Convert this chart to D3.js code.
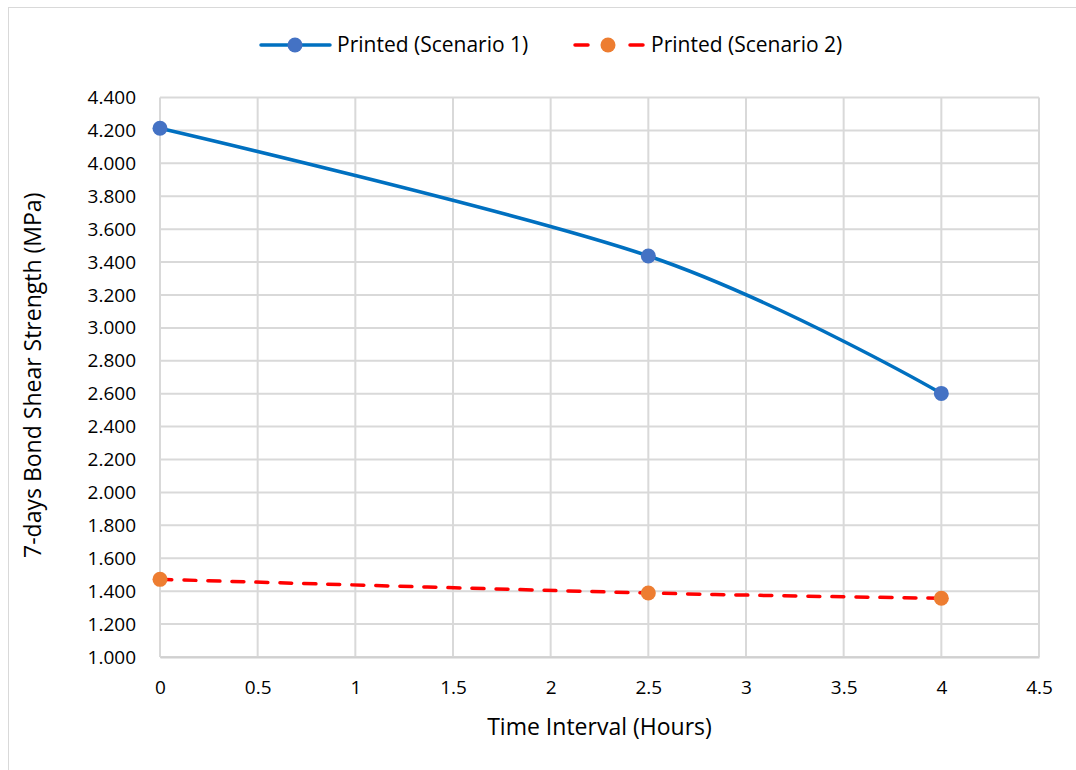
<!DOCTYPE html>
<html>
<head>
<meta charset="utf-8">
<script src="https://cdn.jsdelivr.net/npm/d3@7"></script>
<style>
  html, body { margin: 0; padding: 0; background: #fff; }
  svg { display: block; font-family: "Open Sans", "Noto Sans", sans-serif; }
</style>
</head>
<body>
<svg id="chart" width="1076" height="770"></svg>
<script>
// Time interval between printed layers (hours)
const hours = [0, 2.5, 4];
// 7-day bond shear strength (MPa) for each scenario
const scenario1 = [4.213, 3.437, 2.602];
const scenario2 = [1.472, 1.389, 1.357];
const seriesNames = ["Printed (Scenario 1)", "Printed (Scenario 2)"];
const xTicks = [0, 0.5, 1, 1.5, 2, 2.5, 3, 3.5, 4, 4.5];
const yTicks = [1.0, 1.2, 1.4, 1.6, 1.8, 2.0, 2.2, 2.4, 2.6, 2.8, 3.0, 3.2, 3.4, 3.6, 3.8, 4.0, 4.2, 4.4];

const svg = d3.select("#chart");
const W = 1076, H = 770;
const plot = { left: 160, right: 1039, top: 97.5, bottom: 657 };

// outer chart frame
svg.append("rect")
  .attr("x", 8.5).attr("y", 7.5)
  .attr("width", W + 10).attr("height", H + 10)
  .attr("fill", "#fff").attr("stroke", "#d9d9d9").attr("stroke-width", 1);

const x = d3.scaleLinear().domain([0, 4.5]).range([plot.left, plot.right]);
const y = d3.scaleLinear().domain([1.0, 4.4]).range([plot.bottom, plot.top]);

// gridlines
const grid = svg.append("g");
grid.selectAll(".gx").data(xTicks).join("line")
  .attr("x1", d => x(d)).attr("x2", d => x(d))
  .attr("y1", plot.top).attr("y2", plot.bottom)
  .attr("stroke", "#d9d9d9").attr("stroke-width", 2);
grid.selectAll(".gy").data(yTicks).join("line")
  .attr("x1", plot.left).attr("x2", plot.right)
  .attr("y1", d => y(d)).attr("y2", d => y(d))
  .attr("stroke", "#d9d9d9").attr("stroke-width", 2);

// axes (labels only; gridlines serve as ticks)
const xAxis = d3.axisBottom(x).tickValues(xTicks).tickSize(0).tickPadding(24)
  .tickFormat(d => String(d));
const gx = svg.append("g").attr("transform", `translate(0,${plot.bottom})`).call(xAxis);
gx.select(".domain").attr("stroke", "#d0d0d0").attr("stroke-width", 2);
gx.selectAll("text").attr("font-size", 19).attr("fill", "#000")
  .attr("font-family", "'Open Sans', sans-serif");

const yAxis = d3.axisLeft(y).tickValues(yTicks).tickSize(0).tickPadding(24)
  .tickFormat(d3.format(".3f"));
const gy = svg.append("g").attr("transform", `translate(${plot.left},0)`).call(yAxis);
gy.select(".domain").remove();
gy.selectAll("text").attr("font-size", 19).attr("fill", "#000")
  .attr("font-family", "'Open Sans', sans-serif");

// axis titles
svg.append("text")
  .attr("x", (plot.left + plot.right) / 2).attr("y", 735)
  .attr("text-anchor", "middle").attr("font-size", 23).attr("fill", "#000")
  .text("Time Interval (Hours)");
svg.append("text")
  .attr("transform", `translate(41,${(plot.top + plot.bottom) / 2 - 2}) rotate(-90)`)
  .attr("text-anchor", "middle").attr("font-size", 23).attr("fill", "#000")
  .text("7-days Bond Shear Strength (MPa)");

// series
const line = d3.line()
  .x(d => x(d[0])).y(d => y(d[1]))
  .curve(d3.curveCardinal.tension(0));

const s1 = hours.map((h, i) => [h, scenario1[i]]);
const s2 = hours.map((h, i) => [h, scenario2[i]]);

svg.append("path").datum(s1).attr("d", line)
  .attr("fill", "none").attr("stroke", "#0070c0").attr("stroke-width", 3.5)
  .attr("stroke-linecap", "round");
svg.append("path").datum(s2).attr("d", line)
  .attr("fill", "none").attr("stroke", "#ff0000").attr("stroke-width", 3.5)
  .attr("stroke-dasharray", "12,12").attr("stroke-linecap", "round");

svg.selectAll(".m1").data(s1).join("circle")
  .attr("cx", d => x(d[0])).attr("cy", d => y(d[1])).attr("r", 7.5)
  .attr("fill", "#4472c4");
svg.selectAll(".m2").data(s2).join("circle")
  .attr("cx", d => x(d[0])).attr("cy", d => y(d[1])).attr("r", 7.5)
  .attr("fill", "#ed7d31");

// legend
const leg = svg.append("g");
const ly = 45;
leg.append("line").attr("x1", 261).attr("x2", 330).attr("y1", ly).attr("y2", ly)
  .attr("stroke", "#0070c0").attr("stroke-width", 3.5).attr("stroke-linecap", "round");
leg.append("circle").attr("cx", 295).attr("cy", ly).attr("r", 7.5).attr("fill", "#4472c4");
leg.append("text").attr("x", 337).attr("y", ly).attr("dy", "0.35em")
  .attr("font-size", 21).attr("fill", "#000").text(seriesNames[0]);

leg.append("line").attr("x1", 575).attr("x2", 588).attr("y1", ly).attr("y2", ly)
  .attr("stroke", "#ff0000").attr("stroke-width", 3.5).attr("stroke-linecap", "round");
leg.append("line").attr("x1", 630).attr("x2", 643).attr("y1", ly).attr("y2", ly)
  .attr("stroke", "#ff0000").attr("stroke-width", 3.5).attr("stroke-linecap", "round");
leg.append("circle").attr("cx", 608).attr("cy", ly).attr("r", 7.5).attr("fill", "#ed7d31");
leg.append("text").attr("x", 651).attr("y", ly).attr("dy", "0.35em")
  .attr("font-size", 21).attr("fill", "#000").text(seriesNames[1]);
</script>
</body>
</html>
